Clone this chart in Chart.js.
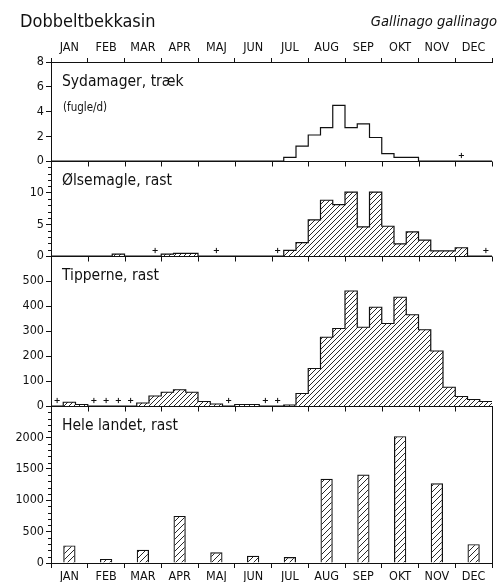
<!DOCTYPE html>
<html>
<head>
<meta charset="utf-8">
<script src="https://cdn.jsdelivr.net/npm/chart.js@4"></script>
<style>
  html, body { margin: 0; background: #fff; }
</style>
</head>
<body>
<canvas id="chart" width="497" height="582"></canvas>
<script>
const months = ['JAN', 'FEB', 'MAR', 'APR', 'MAJ', 'JUN', 'JUL', 'AUG', 'SEP', 'OKT', 'NOV', 'DEC'];

// 10-day periods, three per month (36 in all)
const sydamager = [
  0, 0, 0,   0, 0, 0,   0, 0, 0,   0, 0, 0,   0, 0, 0,   0, 0, 0,
  0, 0.3, 1.2,   2.1, 2.7, 4.5,   2.7, 3.0, 1.9,   0.6, 0.3, 0.3,   0, 0, 0,   0, 0, 0
];
const olsemagle = [
  0, 0, 0,   0, 0, 0.3,   0, 0, 0,   0.3, 0.4, 0.4,   0, 0, 0,   0, 0, 0,
  0, 0.9, 2.1,   5.7, 8.8, 8.1,   10.1, 4.6, 10.1,   4.7, 1.9, 3.8,   2.5, 0.8, 0.8,   1.3, 0, 0
];
const tipperne = [
  0, 15, 6,   0, 0, 0,   0, 12, 40,   55, 65, 55,   18, 8, 0,   6, 6, 0,
  0, 4, 50,   150, 275, 310,   460, 315, 395,   330, 435, 365,   305, 220, 75,   38, 26, 18
];
// whole country, one count per month
const heleLandet = [280, 65, 210, 750, 170, 115, 95, 1340, 1410, 2020, 1270, 300];

// periods where the species was seen in small numbers (+)
const sydamagerPlus = [33];
const olsemaglePlus = [8, 13, 18, 35];
const tipphernePlus = [0, 3, 4, 5, 6, 14, 17, 18];

const panelTitles = ['Sydamager, træk', 'Ølsemagle, rast', 'Tipperne, rast', 'Hele landet, rast'];
const panelMax = [8, 15, 600, 2500];
const panelStep = [2, 5, 100, 500];
const minorStep = [0, 1, 0, 100];
const panelHeights = [99, 95, 150, 157];

const ink = '#111';
const font = '"DejaVu Sans Condensed", "DejaVu Sans", sans-serif';
Chart.defaults.font.family = font;
Chart.defaults.color = ink;

const ctx = document.getElementById('chart').getContext('2d');

function hatch(size) {
  const c = document.createElement('canvas');
  c.width = c.height = size;
  const g = c.getContext('2d');
  g.strokeStyle = ink;
  g.lineWidth = 0.9;
  g.beginPath();
  g.moveTo(0, size); g.lineTo(size, 0);
  g.moveTo(-1, 1); g.lineTo(1, -1);
  g.moveTo(size - 1, size + 1); g.lineTo(size + 1, size - 1);
  g.stroke();
  return ctx.createPattern(c, 'repeat');
}

// histogram outline: one point at the left edge of every period plus the right end
function steps(values) {
  const pts = values.map((v, i) => ({ x: i, y: v }));
  pts.push({ x: values.length, y: values[values.length - 1] });
  return pts;
}

// "+" markers sit a few pixels above the baseline
function pluses(bins, p) {
  const lift = 5.5 * panelMax[p] / panelHeights[p];
  return bins.map(b => ({ x: b + 0.5, y: lift }));
}

function yAxis(p) {
  return {
    type: 'linear',
    position: 'left',
    stack: 'panels',
    stackWeight: panelHeights[p],
    weight: 4 - p,
    min: 0,
    max: panelMax[p],
    border: { color: ink, width: 1 },
    grid: {
      color: c => (c.tick && c.tick.value === 0) ? ink : 'rgba(0,0,0,0)',
      tickColor: ink,
      tickLength: 5,
      lineWidth: 1
    },
    ticks: {
      stepSize: panelStep[p],
      autoSkip: false,
      padding: 2,
      font: { size: 12.5 },
      callback: v => (p > 0 && v === panelMax[p]) ? '' : String(v)
    },
    afterFit: s => { s.width = 51; }
  };
}

function monthAxis(position, height) {
  const top = position === 'top';
  return {
    type: 'category',
    labels: months,
    position: position,
    offset: true,
    border: { color: ink, width: 1 },
    grid: { offset: true, drawOnChartArea: false, color: ink, tickLength: top ? 4 : 5 },
    ticks: {
      padding: top ? 3 : 2,
      font: top ? { size: 12.5 } : { size: 12.5, lineHeight: 1 },
      maxRotation: 0,
      autoSkip: false
    },
    afterFit: s => { s.height = height; }
  };
}

const plusStyle = {
  type: 'line',
  showLine: false,
  pointStyle: 'cross',
  pointRadius: 2.6,
  pointBorderWidth: 1,
  pointBorderColor: ink
};

const decorations = {
  id: 'decorations',
  afterDraw(chart) {
    const { ctx, chartArea, scales } = chart;
    const x = scales.x;
    ctx.save();
    ctx.strokeStyle = ink;
    ctx.fillStyle = ink;
    ctx.lineWidth = 1;
    ctx.beginPath();
    // month ticks hanging below the upper panels' baselines
    ['y1', 'y2', 'y3'].forEach(id => {
      const y0 = Math.round(scales[id].getPixelForValue(0)) + 0.5;
      for (let m = 1; m <= 12; m++) {
        const px = Math.round(x.getPixelForValue(3 * m)) + 0.5;
        ctx.moveTo(px, y0);
        ctx.lineTo(px, y0 + 5);
      }
    });
    // minor ticks on the left axes
    minorStep.forEach((step, p) => {
      if (!step) return;
      const s = scales['y' + (p + 1)];
      for (let v = step; v < panelMax[p]; v += step) {
        if (v % panelStep[p] === 0) continue;
        const py = Math.round(s.getPixelForValue(v)) + 0.5;
        ctx.moveTo(chartArea.left - 3, py);
        ctx.lineTo(chartArea.left, py);
      }
    });
    // right frame of the bottom panel
    ctx.moveTo(chartArea.right + 0.5, scales.y4.top);
    ctx.lineTo(chartArea.right + 0.5, scales.y4.bottom);
    ctx.stroke();

    ctx.textAlign = 'left';
    ctx.textBaseline = 'middle';
    ctx.font = '15.5px ' + font;
    panelTitles.forEach((t, p) => {
      ctx.fillText(t, chartArea.left + 11, scales['y' + (p + 1)].top + 20);
    });
    ctx.font = '11.5px ' + font;
    ctx.fillText('(fugle/d)', chartArea.left + 12, scales.y1.top + 46);

    ctx.textBaseline = 'alphabetic';
    ctx.font = '18px ' + font;
    ctx.fillText('Dobbeltbekkasin', 20, 27);
    ctx.textAlign = 'right';
    ctx.font = 'italic 14.6px ' + font;
    ctx.fillText('Gallinago gallinago', 497, 26);
    ctx.restore();
  }
};

new Chart(ctx, {
  type: 'line',
  data: {
    datasets: [
      {
        data: steps(sydamager), yAxisID: 'y1', stepped: true,
        borderColor: ink, borderWidth: 1.2, pointRadius: 0, fill: false
      },
      {
        data: steps(olsemagle), yAxisID: 'y2', stepped: true,
        borderColor: ink, borderWidth: 1.2, pointRadius: 0,
        fill: 'origin', backgroundColor: hatch(5)
      },
      {
        data: steps(tipperne), yAxisID: 'y3', stepped: true,
        borderColor: ink, borderWidth: 1.2, pointRadius: 0,
        fill: 'origin', backgroundColor: hatch(5)
      },
      {
        type: 'bar',
        data: heleLandet.map((v, m) => ({ x: 3 * m + 1.5, y: v })),
        yAxisID: 'y4',
        backgroundColor: hatch(6), borderColor: ink, borderWidth: 1.2,
        barPercentage: 1, categoryPercentage: 1 / 3
      },
      Object.assign({ data: pluses(sydamagerPlus, 0), yAxisID: 'y1' }, plusStyle),
      Object.assign({ data: pluses(olsemaglePlus, 1), yAxisID: 'y2' }, plusStyle),
      Object.assign({ data: pluses(tipphernePlus, 2), yAxisID: 'y3' }, plusStyle)
    ]
  },
  options: {
    responsive: false,
    animation: false,
    events: [],
    layout: { padding: { left: 0, right: 3, top: 0, bottom: 0 } },
    plugins: { legend: { display: false }, tooltip: { enabled: false } },
    scales: {
      x: {
        type: 'linear', min: 0, max: 36, offset: false, display: false,
        grid: { offset: false }, ticks: { stepSize: 3 }
      },
      xTop: monthAxis('top', 62),
      xBot: monthAxis('bottom', 19),
      y1: yAxis(0),
      y2: yAxis(1),
      y3: yAxis(2),
      y4: yAxis(3)
    }
  },
  plugins: [decorations]
});
</script>
</body>
</html>
